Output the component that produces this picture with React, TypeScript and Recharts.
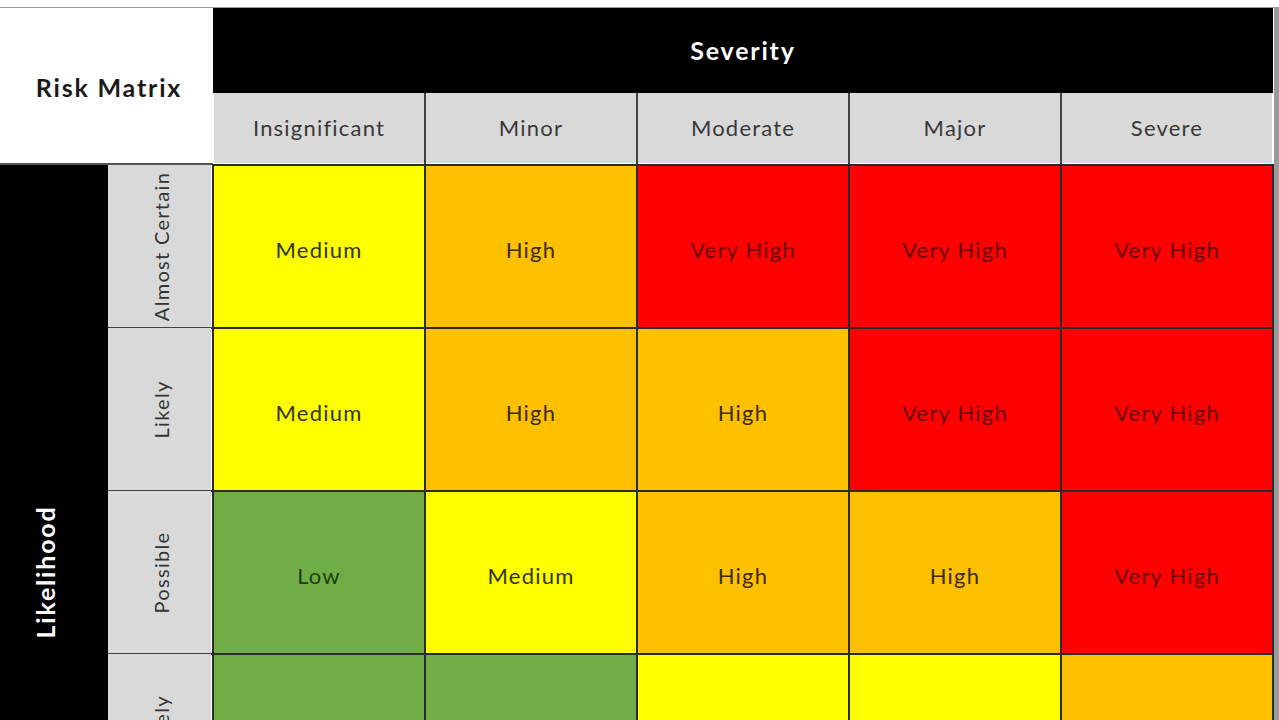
import React from 'react';
import { BarChart, Bar, XAxis, YAxis, Cell, LabelList } from 'recharts';

const severities = ['Insignificant', 'Minor', 'Moderate', 'Major', 'Severe'];
const likelihoods = ['Almost Certain', 'Likely', 'Possible', 'Unlikely', 'Rare'];
const riskLevels: string[][] = [
  ['Medium', 'High', 'Very High', 'Very High', 'Very High'],
  ['Medium', 'High', 'High', 'Very High', 'Very High'],
  ['Low', 'Medium', 'High', 'High', 'Very High'],
  ['Low', 'Low', 'Medium', 'Medium', 'High'],
  ['Low', 'Low', 'Low', 'Medium', 'Medium'],
];
const cellSpan = [1, 1, 1, 1, 1];
const tickPositions = [0.5, 1.5, 2.5, 3.5, 4.5];

const levelFill: Record<string, string> = {
  Low: '#70AD47',
  Medium: '#FFFF00',
  High: '#FFC000',
  'Very High': '#FF0000',
};
const levelText: Record<string, string> = {
  Low: '#1f3d0f',
  Medium: '#333300',
  High: '#3d2b00',
  'Very High': '#6b0000',
};

const data = likelihoods.map((l, i) => {
  const row: any = { likelihood: l };
  severities.forEach((_, j) => {
    row['s' + j] = cellSpan[j];
    row['level' + j] = riskLevels[i][j];
  });
  return row;
});

const FONT = 'Lato, "Open Sans", sans-serif';
const CHART_W = 1279;
const CHART_H = 980;
const TOP = 165;
const ROW_H = (CHART_H - TOP) / likelihoods.length;
const COL_W = (1273 - 213) / severities.length;

const SevTick = (props: any) => {
  const { x, payload } = props;
  const idx = tickPositions.indexOf(payload.value);
  return (
    <g>
      <rect x={x - COL_W / 2 + 1} y={93} width={COL_W - 2} height={70} fill="#D9D9D9" />
      {idx < severities.length - 1 && (
        <line x1={x + COL_W / 2} x2={x + COL_W / 2} y1={93} y2={164} stroke="#404040" strokeWidth={2} />
      )}
      <text
        x={x}
        y={127}
        textAnchor="middle"
        dominantBaseline="central"
        fontFamily={FONT}
        fontSize={22}
        letterSpacing={1.2}
        fill="#383838"
      >
        {severities[idx]}
      </text>
    </g>
  );
};

const LikTick = (props: any) => {
  const { y, payload } = props;
  return (
    <g>
      <rect x={108} y={y - ROW_H / 2} width={103} height={ROW_H} fill="#D9D9D9" />
      <line x1={108} x2={212} y1={y + ROW_H / 2} y2={y + ROW_H / 2} stroke="#404040" strokeWidth={2} />
      <text
        x={161}
        y={y}
        transform={`rotate(-90 161 ${y})`}
        textAnchor="middle"
        dominantBaseline="central"
        fontFamily={FONT}
        fontSize={20}
        letterSpacing={1.3}
        fill="#333"
      >
        {payload.value}
      </text>
    </g>
  );
};

const makeLabel = (props: any) => {
  const vb = props.viewBox || props;
  const { x, y, width, height } = vb;
  const v = props.value as string;
  return (
    <text
      x={x + width / 2}
      y={y + height / 2 + 3}
      textAnchor="middle"
      dominantBaseline="central"
      fontFamily={FONT}
      fontSize={22}
      letterSpacing={1.2}
      fill={levelText[v] || '#333'}
    >
      {v}
    </text>
  );
};

const headStyle: React.CSSProperties = {
  fontWeight: 700,
  fontSize: 25,
  letterSpacing: 1.8,
  whiteSpace: 'nowrap',
};

export default function App() {
  return (
    <div
      style={{
        position: 'fixed',
        left: 0,
        top: 0,
        width: 1279,
        height: 720,
        overflow: 'hidden',
        background: '#fff',
        fontFamily: FONT,
      }}
    >
      <div style={{ position: 'absolute', left: 0, top: 7, width: 1279, height: 1, background: '#9a9a9a' }} />
      <div style={{ position: 'absolute', left: 213, top: 8, width: 1060, height: 85, background: '#000' }} />
      <div
        style={{
          ...headStyle,
          position: 'absolute',
          left: 213,
          top: 8,
          width: 1060,
          height: 85,
          color: '#fff',
          display: 'flex',
          alignItems: 'center',
          justifyContent: 'center',
          paddingBottom: 2,
          boxSizing: 'border-box',
        }}
      >
        Severity
      </div>
      <div
        style={{
          ...headStyle,
          position: 'absolute',
          left: 0,
          top: 8,
          width: 218,
          height: 156,
          color: '#1a1a1a',
          display: 'flex',
          alignItems: 'center',
          justifyContent: 'center',
          paddingTop: 2,
          boxSizing: 'border-box',
        }}
      >
        Risk Matrix
      </div>
      <div style={{ position: 'absolute', left: 0, top: 163, width: 213, height: 2, background: '#555' }} />
      <div style={{ position: 'absolute', left: 0, top: TOP, width: 108, height: CHART_H - TOP, background: '#000' }} />
      <div
        style={{
          ...headStyle,
          position: 'absolute',
          left: 45,
          top: 572,
          transform: 'translate(-50%, -50%) rotate(-90deg)',
          color: '#fff',
        }}
      >
        Likelihood
      </div>
      <div style={{ position: 'absolute', left: 1274, top: 8, width: 5, height: 712, background: '#9a9a9a' }} />
      <div style={{ position: 'absolute', left: 0, top: 0 }}>
        <BarChart
          width={CHART_W}
          height={CHART_H}
          data={data}
          layout="vertical"
          barCategoryGap={0}
          margin={{ top: 93, left: 108, right: 6, bottom: 0 }}
        >
          <XAxis
            type="number"
            orientation="top"
            domain={[0, 5]}
            ticks={tickPositions}
            interval={0}
            height={72}
            axisLine={false}
            tickLine={false}
            tick={SevTick}
          />
          <YAxis
            type="category"
            dataKey="likelihood"
            width={105}
            axisLine={false}
            tickLine={false}
            interval={0}
            tick={LikTick}
          />
          {severities.map((s, j) => (
            <Bar
              key={s}
              dataKey={'s' + j}
              stackId="risk"
              isAnimationActive={false}
              stroke="#2b2b2b"
              strokeWidth={2}
            >
              {data.map((row, i) => (
                <Cell key={i} fill={levelFill[row['level' + j]]} />
              ))}
              <LabelList dataKey={'level' + j} content={makeLabel} />
            </Bar>
          ))}
        </BarChart>
      </div>
    </div>
  );
}
